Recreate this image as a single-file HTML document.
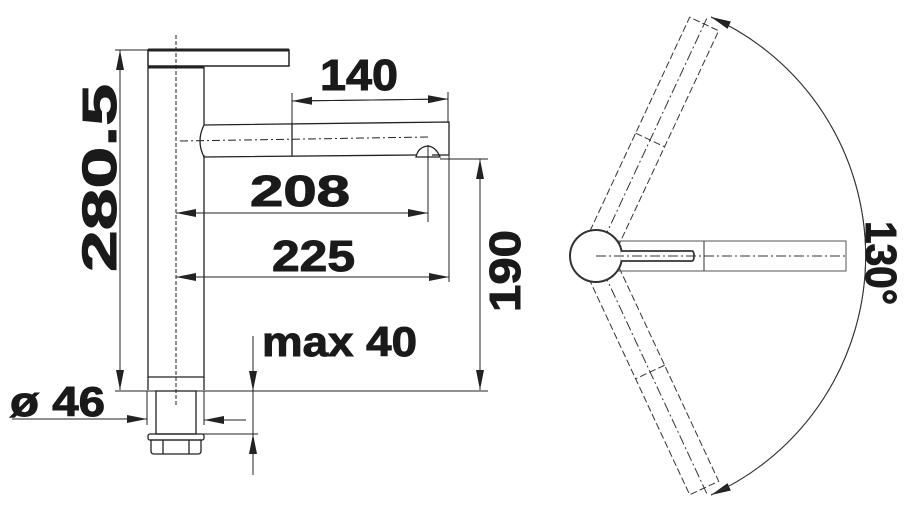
<!DOCTYPE html>
<html><head><meta charset="utf-8"><style>
html,body{margin:0;padding:0;background:#fff;}
svg{display:block;}
text{font-family:"Liberation Sans",sans-serif;font-weight:bold;fill:#1a1a1a;stroke:#1a1a1a;stroke-width:1;}
</style></head><body>
<svg width="907" height="513" viewBox="0 0 907 513" xmlns="http://www.w3.org/2000/svg">
<defs>
<marker id="a" markerWidth="20" markerHeight="10" refX="20" refY="5" orient="auto" markerUnits="userSpaceOnUse">
<path d="M0,1 L20,5 L0,9 Z" fill="#222"/></marker>
</defs>
<g stroke="#222" fill="none" stroke-width="1.3">
<rect x="148" y="50" width="141" height="16" stroke-width="1.5"/>
<line x1="148" y1="50" x2="289" y2="50" stroke-width="3"/>
<line x1="148" y1="67" x2="204" y2="67" stroke-width="3"/>
<line x1="148" y1="67" x2="148" y2="390"/>
<line x1="204" y1="67" x2="204" y2="125"/>
<line x1="204" y1="155" x2="204" y2="390"/>
<line x1="148" y1="377" x2="204" y2="377"/>
<line x1="176" y1="35" x2="176" y2="405" stroke-dasharray="4,2" stroke-width="1"/>
<path d="M204,125 L449,122 L449,155 L432,155 M416,155 L204,157"/>
<path d="M204,125 Q196,141 204,157"/>
<line x1="292" y1="123" x2="292" y2="156"/>
<path d="M416,157 Q418,147 428,146 Q436,147 440,157 Z"/>
<line x1="180" y1="141" x2="430" y2="137" stroke-dasharray="8,3,2,3" stroke-width="1"/>
<line x1="292" y1="93" x2="292" y2="123" stroke-width="1"/>
<line x1="448" y1="92" x2="448" y2="122" stroke-width="1"/>
<line x1="448" y1="99" x2="292" y2="101" marker-end="url(#a)" stroke-width="1"/>
<line x1="292" y1="101" x2="448" y2="99" marker-end="url(#a)" stroke-width="1"/>
<line x1="428" y1="145" x2="428" y2="222" stroke-width="1"/>
<line x1="428" y1="213" x2="176" y2="213" marker-end="url(#a)" stroke-width="1"/>
<line x1="176" y1="213" x2="428" y2="213" marker-end="url(#a)" stroke-width="1"/>
<line x1="449" y1="155" x2="449" y2="282" stroke-width="1"/>
<line x1="449" y1="277" x2="176" y2="277" marker-end="url(#a)" stroke-width="1"/>
<line x1="176" y1="277" x2="449" y2="277" marker-end="url(#a)" stroke-width="1"/>
<line x1="440" y1="159" x2="488" y2="159" stroke-width="1"/>
<line x1="480" y1="390" x2="480" y2="159" marker-end="url(#a)" stroke-width="1"/>
<line x1="480" y1="159" x2="480" y2="390" marker-end="url(#a)" stroke-width="1"/>
<line x1="115" y1="50" x2="148" y2="50" stroke-width="1"/>
<line x1="120" y1="390" x2="120" y2="50" marker-end="url(#a)" stroke-width="1"/>
<line x1="120" y1="50" x2="120" y2="390" marker-end="url(#a)" stroke-width="1"/>
<line x1="115" y1="391" x2="488" y2="391" stroke-width="1"/>
<rect x="156" y="391" width="40" height="43"/>
<rect x="148" y="434" width="56" height="6" rx="2"/>
<path d="M151,440 L201,440 L201,451 Q201,454 198,454 L154,454 Q151,454 151,451 Z"/>
<line x1="163" y1="440" x2="163" y2="454"/><line x1="189" y1="440" x2="189" y2="454"/>
<line x1="147" y1="391" x2="147" y2="425" stroke-width="1"/>
<line x1="204" y1="391" x2="204" y2="425" stroke-width="1"/>
<line x1="12" y1="419" x2="147" y2="419" marker-end="url(#a)" stroke-width="1"/>
<line x1="246" y1="420" x2="204" y2="420" marker-end="url(#a)" stroke-width="1"/>
<line x1="200" y1="434" x2="258" y2="434" stroke-width="1"/>
<line x1="253" y1="336" x2="253" y2="391" marker-end="url(#a)" stroke-width="1"/>
<line x1="253" y1="475" x2="253" y2="434" marker-end="url(#a)" stroke-width="1"/>
<line x1="253" y1="391" x2="253" y2="434" stroke-width="1"/>
</g>
<text x="320" y="90" font-size="44" textLength="78" lengthAdjust="spacingAndGlyphs">140</text>
<text x="250" y="206" font-size="44" textLength="100" lengthAdjust="spacingAndGlyphs">208</text>
<text x="272" y="271" font-size="44" textLength="83" lengthAdjust="spacingAndGlyphs">225</text>
<text x="262" y="356" font-size="42" textLength="155" lengthAdjust="spacingAndGlyphs">max 40</text>
<text x="10" y="416" font-size="42" textLength="95" lengthAdjust="spacingAndGlyphs">ø 46</text>
<text transform="translate(116,178) rotate(-90)" text-anchor="middle" font-size="48" textLength="188" lengthAdjust="spacingAndGlyphs">280.5</text>
<text transform="translate(520,271) rotate(-90)" text-anchor="middle" font-size="44" textLength="82" lengthAdjust="spacingAndGlyphs">190</text>
<text transform="translate(866,263) rotate(90)" text-anchor="middle" font-size="44" textLength="84" lengthAdjust="spacingAndGlyphs">130°</text>
<g stroke="#333" fill="none" stroke-width="1">
<g transform="translate(596,256)">
<g transform="rotate(-65)" stroke-dasharray="7,3">
<rect x="20" y="-16" width="236" height="32"/>
<line x1="128" y1="-16" x2="128" y2="16"/>
<line x1="0" y1="0" x2="262" y2="0" stroke-dasharray="10,3,2,3"/>
</g>
<g transform="rotate(65)" stroke-dasharray="7,3">
<rect x="20" y="-16" width="236" height="32"/>
<line x1="128" y1="-16" x2="128" y2="16"/>
<line x1="0" y1="0" x2="262" y2="0" stroke-dasharray="10,3,2,3"/>
</g>
<path d="M21,-15 L250,-15 L250,15 L21,15" stroke="#555"/>
<line x1="108" y1="-15" x2="108" y2="15"/>
<line x1="0" y1="0" x2="250" y2="0" stroke-dasharray="10,3,2,3"/>
<circle cx="0" cy="0" r="26" stroke-width="2" fill="#fff"/>
<path d="M25,-5 L96,-5 Q98,-5 98,0 Q98,5 96,5 L25,5" stroke-width="1.8" fill="#fff"/>
<line x1="0" y1="0" x2="100" y2="0" stroke-dasharray="10,3,2,3"/>
<path d="M115,-239 A262,262 0 0 1 115,239" marker-end="url(#a)"/>
<path d="M115,239 A262,262 0 0 0 115,-239" marker-end="url(#a)"/>
</g>
</g>
</svg>
</body></html>
